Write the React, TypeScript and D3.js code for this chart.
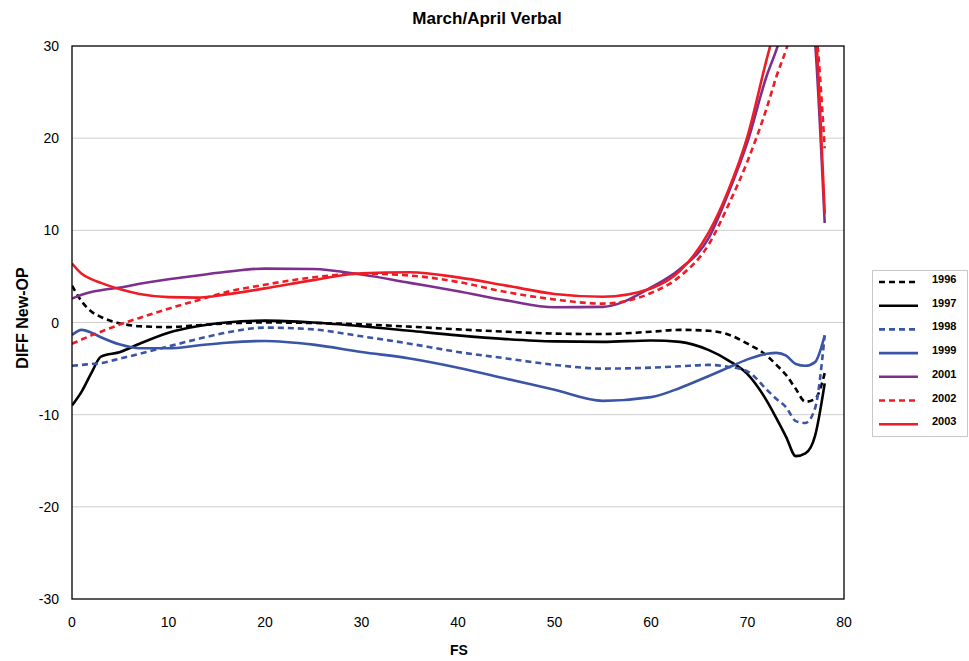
import * as d3 from 'd3';

// FS points at which every series is read
const fsValues = [0, 1, 2, 3, 5, 7, 10, 13, 16, 20, 25, 30, 35, 40, 45, 50, 55, 60, 63, 66, 68, 70, 72, 73, 74, 75, 76, 77, 78];

const y1996 = [4.0, 2.3, 1.2, 0.6, -0.1, -0.4, -0.5, -0.3, -0.1, 0.0, -0.05, -0.2, -0.45, -0.75, -1.0, -1.2, -1.25, -1.0, -0.8, -0.9, -1.3, -2.3, -3.6, -4.6, -5.7, -7.2, -8.6, -8.3, -5.5];
const y1997 = [-9.0, -7.5, -5.5, -3.7, -3.2, -2.3, -1.1, -0.4, 0.0, 0.2, 0.0, -0.4, -0.9, -1.4, -1.8, -2.05, -2.1, -1.95, -2.1, -3.0, -4.1, -5.6, -8.5, -10.4, -12.4, -14.5, -14.2, -12.3, -6.6];
const y1998 = [-4.7, -4.6, -4.5, -4.4, -3.9, -3.4, -2.6, -1.8, -1.1, -0.55, -0.75, -1.5, -2.3, -3.2, -3.9, -4.6, -5.0, -4.9, -4.75, -4.6, -4.8, -5.3, -7.3, -8.3, -9.2, -10.7, -10.9, -9.3, -1.4];
const y1999 = [-1.35, -0.8, -1.1, -1.6, -2.4, -2.8, -2.8, -2.5, -2.2, -2.0, -2.4, -3.2, -3.9, -4.9, -6.1, -7.3, -8.5, -8.1, -7.1, -5.8, -4.9, -4.0, -3.4, -3.3, -3.6, -4.5, -4.7, -4.3, -1.4];
const y2001 = [2.6, 3.0, 3.3, 3.5, 3.8, 4.2, 4.7, 5.1, 5.5, 5.85, 5.8, 5.2, 4.3, 3.4, 2.4, 1.65, 1.7, 3.8, 5.8, 9.2, 14.0, 19.6, 26.8, 29.6, 33.0, 36.5, 39.0, 30.5, 10.8];
const y2002 = [-2.3, -1.85, -1.4, -1.0, -0.2, 0.5, 1.5, 2.4, 3.3, 4.1, 4.9, 5.3, 5.1, 4.4, 3.3, 2.5, 2.05, 3.2, 5.0, 8.5, 12.7, 17.5, 23.3, 26.7, 29.6, 33.0, 36.0, 32.5, 18.9];
const y2003 = [6.4, 5.3, 4.7, 4.3, 3.6, 3.1, 2.75, 2.7, 3.05, 3.7, 4.6, 5.35, 5.45, 4.9, 4.0, 3.1, 2.8, 3.7, 5.6, 9.8, 14.3, 20.2, 28.6, 32.5, 36.0, 40.0, 42.0, 33.0, 11.8];

const seriesNames = ['1996', '1997', '1998', '1999', '2001', '2002', '2003'];
const seriesValues = [y1996, y1997, y1998, y1999, y2001, y2002, y2003];
const seriesColors = ['#000000', '#000000', '#3b55a6', '#3b55a6', '#7e2f8e', '#ee1c25', '#ee1c25'];
const seriesDashed = [true, false, true, false, false, true, false];

const xTicks = [0, 10, 20, 30, 40, 50, 60, 70, 80];
const yTicks = [-30, -20, -10, 0, 10, 20, 30];

const W = 969;
const H = 661;
const plot = { left: 72, right: 844, top: 46, bottom: 599 };

export default function App() {
  const x = d3.scaleLinear().domain([0, 80]).range([plot.left, plot.right]);
  const y = d3.scaleLinear().domain([-30, 30]).range([plot.bottom, plot.top]);

  const line = d3.line<[number, number]>()
    .x(d => x(d[0]))
    .y(d => y(d[1]))
    .curve(d3.curveMonotoneX);

  const font = '"Liberation Sans", Arial, sans-serif';

  return (
    <svg width={W} height={H} style={{ position: 'absolute', left: 0, top: 0 }} fontFamily={font}>
      <defs>
        <clipPath id="plotClip">
          <rect x={plot.left} y={plot.top} width={plot.right - plot.left} height={plot.bottom - plot.top} />
        </clipPath>
      </defs>

      <text x={487} y={24} textAnchor="middle" fontSize={17} fontWeight="bold">March/April Verbal</text>

      {/* grid */}
      {yTicks.filter(t => t > -30 && t < 30).map(t => (
        <line key={t} x1={plot.left} x2={plot.right} y1={y(t)} y2={y(t)} stroke="#cfcfcf" strokeWidth={1} />
      ))}

      {/* series */}
      <g clipPath="url(#plotClip)">
        {seriesValues.map((vals, i) => (
          <path
            key={seriesNames[i]}
            d={line(fsValues.map((f, j) => [f, vals[j]] as [number, number])) || ''}
            fill="none"
            stroke={seriesColors[i]}
            strokeWidth={2.6}
            strokeDasharray={seriesDashed[i] ? '6,4' : undefined}
          />
        ))}
      </g>

      {/* frame */}
      <rect x={plot.left} y={plot.top} width={plot.right - plot.left} height={plot.bottom - plot.top}
        fill="none" stroke="#000" strokeWidth={1.3} />

      {yTicks.map(t => (
        <text key={t} x={59} y={y(t) + 5} textAnchor="end" fontSize={14}>{t}</text>
      ))}
      {xTicks.map(t => (
        <text key={t} x={x(t)} y={627} textAnchor="middle" fontSize={14}>{t}</text>
      ))}

      <text x={459} y={655} textAnchor="middle" fontSize={14} fontWeight="bold">FS</text>
      <text transform="translate(28,318) rotate(-90)" textAnchor="middle"
        fontSize={16} fontWeight="bold">DIFF New-OP</text>

      {/* legend */}
      <rect x={872.5} y={270.5} width={95} height={166} fill="#fff" stroke="#c8c8c8" strokeWidth={1} />
      {seriesNames.map((name, i) => {
        const ly = 282 + i * 23.7;
        return (
          <g key={name}>
            <line x1={879} x2={918} y1={ly} y2={ly} stroke={seriesColors[i]} strokeWidth={2.6}
              strokeDasharray={seriesDashed[i] ? '6,4' : undefined} />
            <text x={932} y={ly + 1} fontSize={11} fontWeight="bold">{name}</text>
          </g>
        );
      })}
    </svg>
  );
}
